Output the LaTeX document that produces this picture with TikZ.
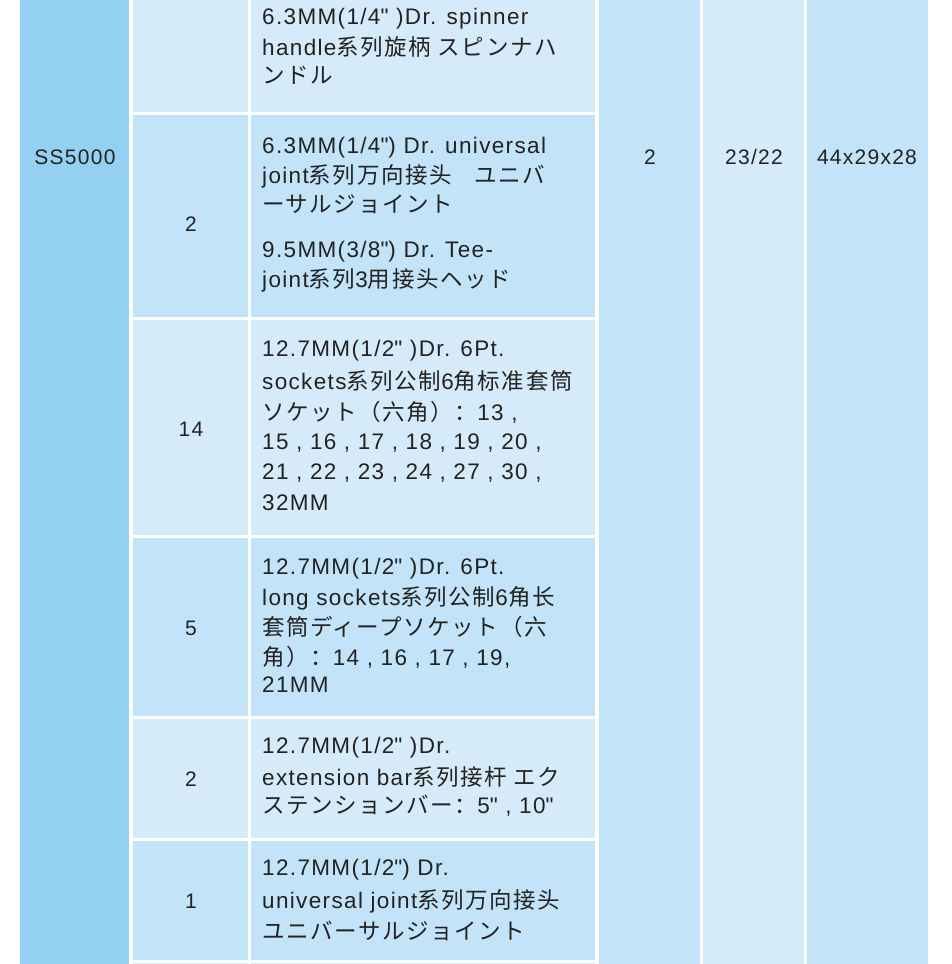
\documentclass[tikz,border=0pt]{standalone}
\usepackage{fontspec}
\setmainfont{Liberation Sans}[LetterSpace=6]
\newfontfamily\cjk{Noto Sans CJK SC}[LetterSpace=7]
\newcommand\qq{{\fontspec{Liberation Sans}[Mapping=]\symbol{34}}}
\definecolor{cdark}{HTML}{94D0F2}
\definecolor{clight}{HTML}{D6EBF9}
\definecolor{cmid}{HTML}{C3E3F8}
\definecolor{ctext}{HTML}{222222}
\tikzset{
 ln/.style={anchor=west,inner sep=0pt,font=\fontsize{22.5}{26}\selectfont,text=ctext},
 num/.style={inner sep=0pt,font=\fontsize{21}{24}\selectfont,text=ctext}}
\begin{document}
\begin{tikzpicture}[x=1pt,y=-1pt]
\useasboundingbox (0,0) rectangle (952,964);
\begin{scope}
\clip (0,0) rectangle (952,964);
\fill[white] (0,0) rectangle (952,964);
\fill[cdark] (20,-5) rectangle (129,970);
\fill[cmid] (599,-5) rectangle (700,970);
\fill[clight] (703,-5) rectangle (804,970);
\fill[cmid] (807,-5) rectangle (928,970);
\foreach \a/\b/\c in {-5/112/clight,115/317/cmid,320/535/clight,538/716/cmid,719/838/clight,841/960/cmid,963/990/clight}{
 \fill[\c] (133,\a) rectangle (248,\b);
 \fill[\c] (251,\a) rectangle (595,\b);
}
\end{scope}
\node[num] (m) at (75,157) {SS5000};
\node[num] (c1) at (650,157) {2};
\node[num] (c2) at (754,157) {23/22};
\node[num] (c3) at (867,157) {44x29x28};
\node[num] (q2) at (191,224) {2};
\node[num] (q3) at (191,429) {14};
\node[num] (q4) at (191,628) {5};
\node[num] (q5) at (191,779) {2};
\node[num] (q6) at (191,901) {1};
\node[ln] (t1) at (262,19) {6.3MM(1/4\qq\ )Dr. spinner};
\node[ln] (t2) at (262,47) {handle{\cjk 系列旋柄 スピンナハ}};
\node[ln] (t3) at (262,75) {{\cjk ンドル}};
\node[ln] (t4) at (262,148) {6.3MM(1/4\qq) Dr. universal};
\node[ln] (t5) at (262,176) {joint{\cjk 系列万向接头\quad ユニバ}};
\node[ln] (t6) at (262,204) {{\cjk ーサルジョイント}};
\node[ln] (t7) at (262,252) {9.5MM(3/8\qq) Dr. Tee-};
\node[ln] (t8) at (262,280) {joint{\cjk 系列}3{\cjk 用接头ヘッド}};
\node[ln] (t9) at (262,351) {12.7MM(1/2\qq\ )Dr. 6Pt.};
\node[ln] (t10) at (262,381) {sockets{\cjk 系列公制}6{\cjk 角标准套筒}};
\node[ln] (t11) at (262,412) {{\cjk ソケット（六角）：}13 ,};
\node[ln] (t12) at (262,443) {15 , 16 , 17 , 18 , 19 , 20 ,};
\node[ln] (t13) at (262,473) {21 , 22 , 23 , 24 , 27 , 30 ,};
\node[ln] (t14) at (262,503) {32MM};
\node[ln] (t15) at (262,569) {12.7MM(1/2\qq\ )Dr. 6Pt.};
\node[ln] (t16) at (262,598) {long sockets{\cjk 系列公制}6{\cjk 角长}};
\node[ln] (t17) at (262,627) {{\cjk 套筒ディープソケット（六}};
\node[ln] (t18) at (262,657) {{\cjk 角）：}14 , 16 , 17 , 19,};
\node[ln] (t19) at (262,685) {21MM};
\node[ln] (t20) at (262,748) {12.7MM(1/2\qq\ )Dr.};
\node[ln] (t21) at (262,777) {extension bar{\cjk 系列接杆\ エク}};
\node[ln] (t22) at (262,806) {{\cjk ステンションバー：}5\qq\ , 10\qq};
\node[ln] (t23) at (262,870) {12.7MM(1/2\qq) Dr.};
\node[ln] (t24) at (262,901) {universal joint{\cjk 系列万向接头}};
\node[ln] (t25) at (262,931) {{\cjk ユニバーサルジョイント}};
\end{tikzpicture}
\end{document}
